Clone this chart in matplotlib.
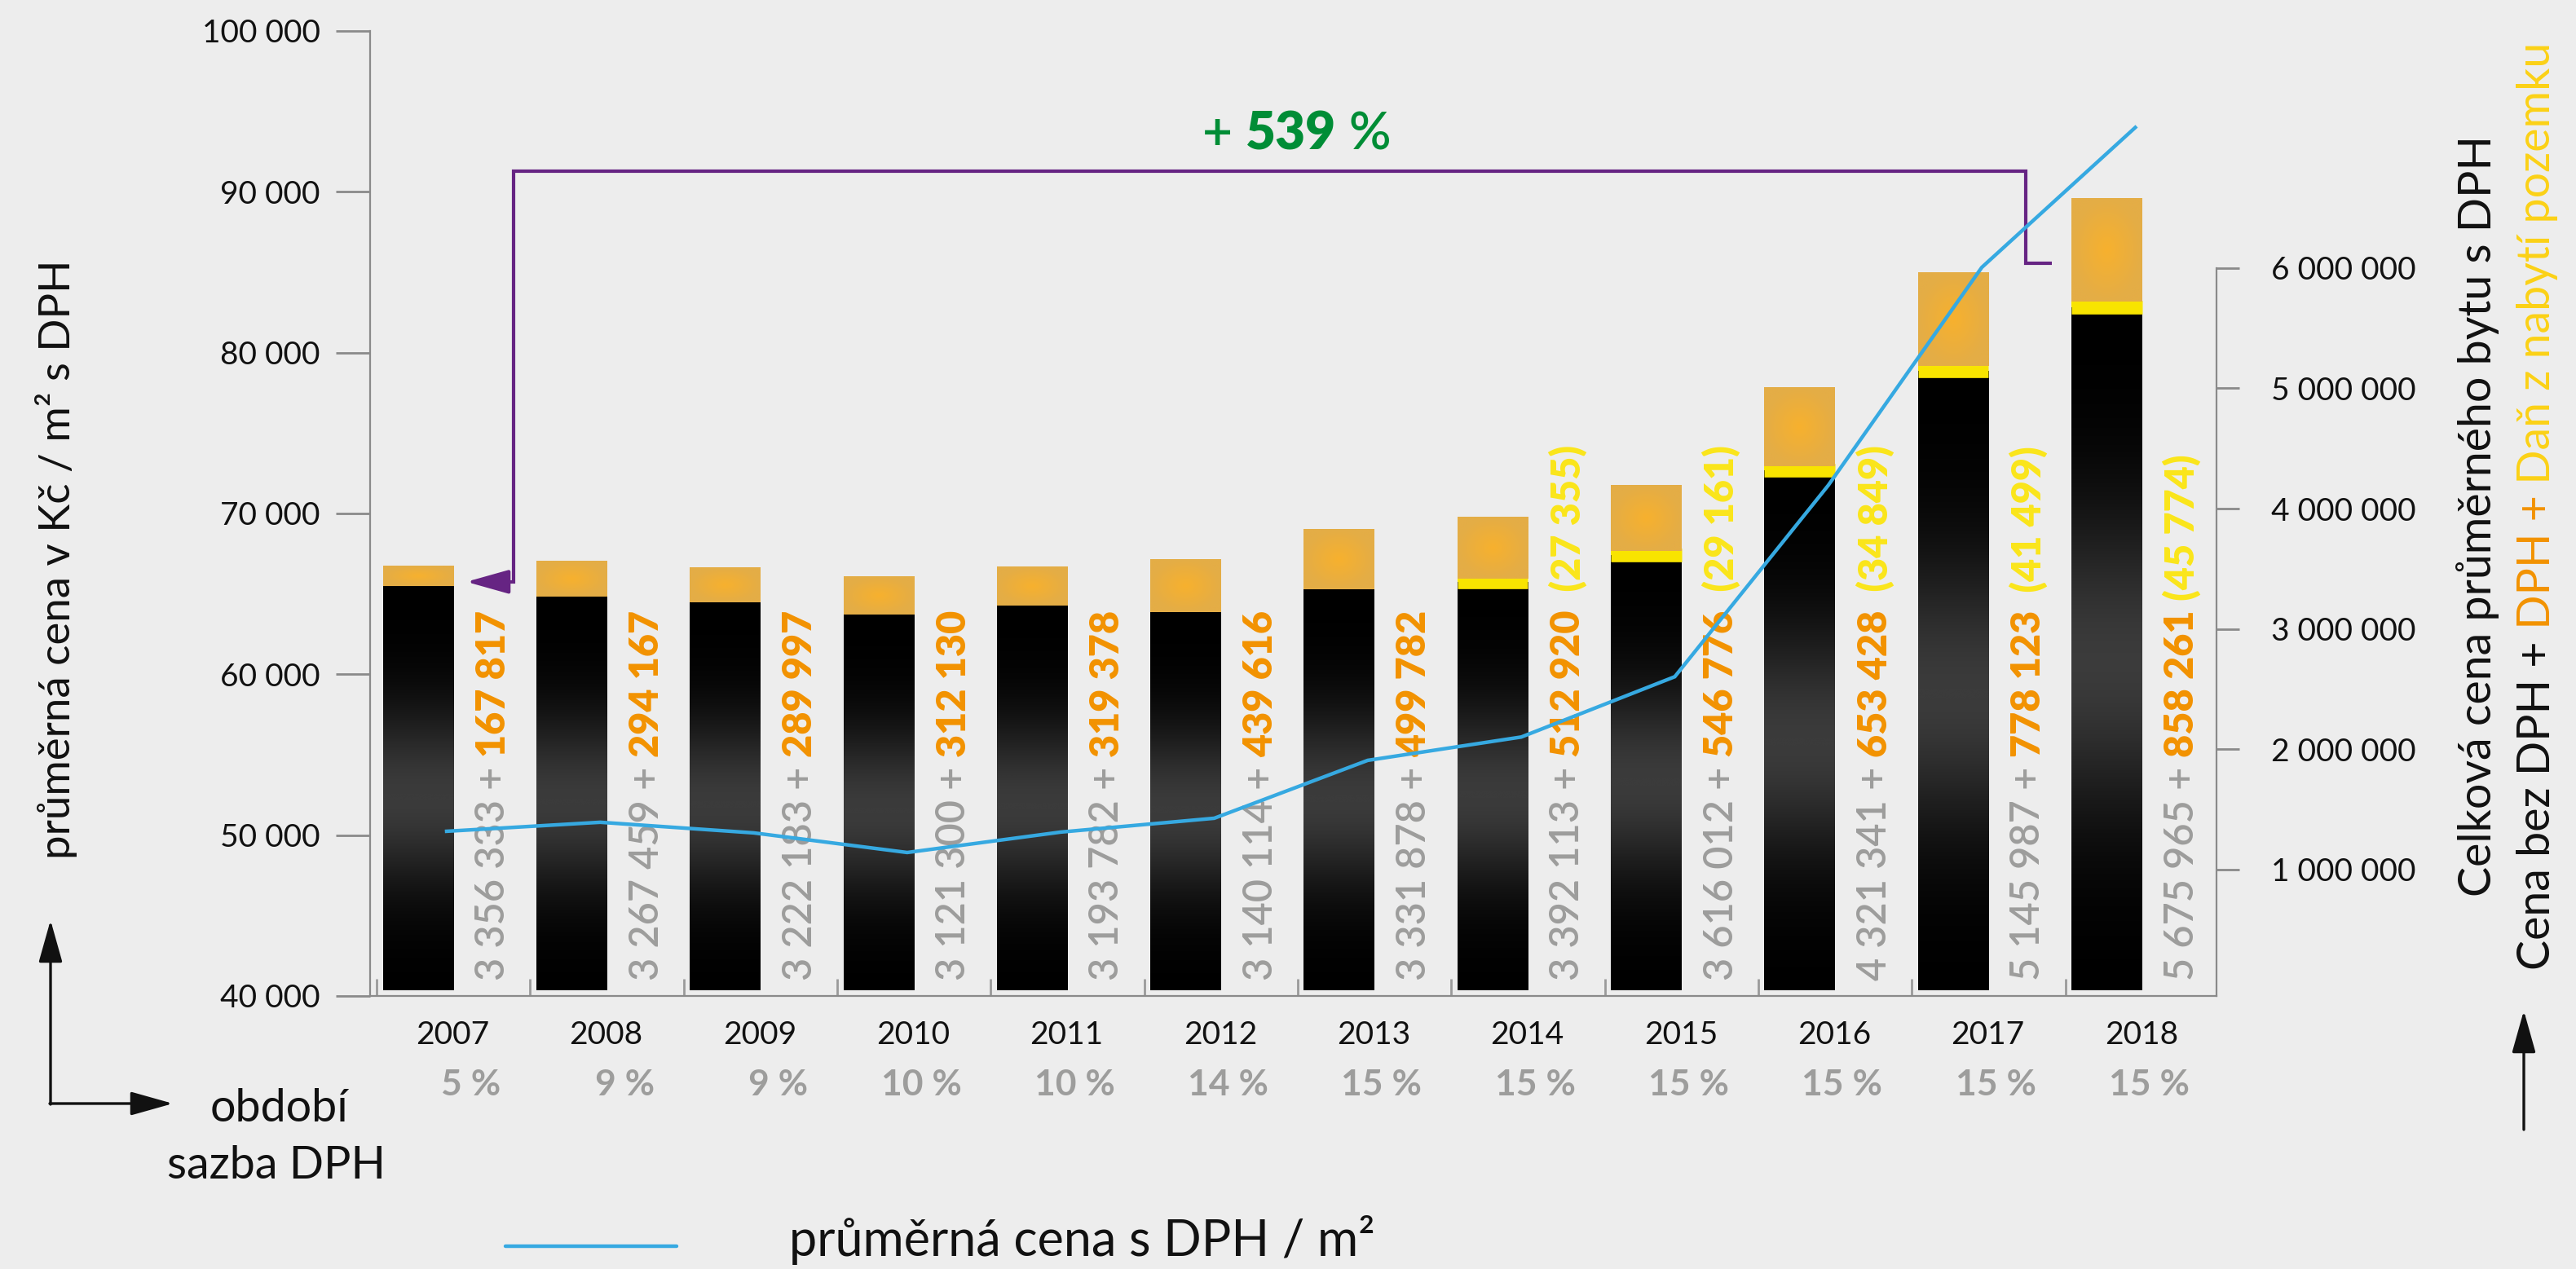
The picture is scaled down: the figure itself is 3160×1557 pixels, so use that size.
import matplotlib.pyplot as plt
import numpy as np
from matplotlib.colors import LinearSegmentedColormap

plt.rcParams['font.family'] = ['Lato', 'DejaVu Sans']

############################## data ##
years = ['2007', '2008', '2009', '2010', '2011', '2012',
         '2013', '2014', '2015', '2016', '2017', '2018']
vat_rate = ['5 %', '9 %', '9 %', '10 %', '10 %', '14 %',
            '15 %', '15 %', '15 %', '15 %', '15 %', '15 %']
price_no_vat = [3356333, 3267459, 3222183, 3121300, 3193782, 3140114,
                3331878, 3392113, 3616012, 4321341, 5145987, 5675965]
vat = [167817, 294167, 289997, 312130, 319378, 439616,
       499782, 512920, 546776, 653428, 778123, 858261]
land_tax = [0, 0, 0, 0, 0, 0, 0, 27355, 29161, 34849, 41499, 45774]
price_m2 = [50240, 50800, 50140, 48920, 50190, 51050,
            54650, 56100, 59850, 71750, 85300, 94000]
left_ticks = [40000, 50000, 60000, 70000, 80000, 90000, 100000]
right_ticks = [1000000, 2000000, 3000000, 4000000, 5000000, 6000000]
growth = '539'

GREY = '#9d9d9c'
ORANGE = '#f39200'
YELLOW = '#fbe51a'
GOLD = '#fcd116'
PURPLE = '#662483'
BLUE = '#36a9e1'
GREEN = '#008d36'
BG = '#ededed'


def fmt(v):
    return f'{v:,}'.replace(',', ' ')


W, H, DPI = 3160, 1557, 200
fig = plt.figure(figsize=(W / DPI, H / DPI), dpi=DPI, facecolor=BG)

ax = fig.add_axes([454 / W, 1 - 1222 / H, (2719 - 454) / W, (1222 - 38) / H])
ax2 = ax.twinx()
ax.set_zorder(3)
ax2.set_zorder(2)
ax.patch.set_visible(False)
ax2.patch.set_visible(False)

x = np.arange(len(years))
w = 0.46

# black bars with a soft vertical gradient
black_cmap = LinearSegmentedColormap.from_list('blk', ['#000000', '#3b3b3b'])
t = np.linspace(0, 1, 256)
grad = np.exp(-((t - 0.48) / 0.22) ** 2).reshape(-1, 1)
orange_cmap = LinearSegmentedColormap.from_list('org', ['#f7b12e', '#e4ad46'])
u, v = np.meshgrid(np.linspace(-1, 1, 60), np.linspace(-1, 1, 60))
radial = np.clip(np.sqrt(u ** 2 + v ** 2), 0, 1)

for i in range(len(years)):
    b = price_no_vat[i]
    ax2.imshow(grad, cmap=black_cmap, vmin=0, vmax=1, origin='lower', aspect='auto',
               extent=[x[i] - w / 2, x[i] + w / 2, 0, b], zorder=2, interpolation='bicubic')
    if land_tax[i] > 0:
        ax2.bar(x[i], land_tax[i], bottom=b, width=w, color='#f8e400', linewidth=0, zorder=3)
        ax2.hlines(b, x[i] - w / 2, x[i] + w / 2, colors='#f8e400', linewidth=6,
                   zorder=3, capstyle='butt')
    bot = b + land_tax[i]
    ax2.imshow(radial, cmap=orange_cmap, vmin=0, vmax=1, origin='lower', aspect='auto',
               extent=[x[i] - w / 2, x[i] + w / 2, bot, bot + vat[i]], zorder=4,
               interpolation='bicubic')

# average price per m2 line
ax.plot(x + 0.186, price_m2, color=BLUE, linewidth=1.6, zorder=10, solid_joinstyle='miter')

ax.set_xlim(-0.313, 11.715)
ax.set_ylim(40000, 100000)
ax2.set_ylim(-50000, 7970000)

# axes styling
for s in ['top', 'right']:
    ax.spines[s].set_visible(False)
for s in ['top', 'left', 'bottom']:
    ax2.spines[s].set_visible(False)
ax.spines['left'].set_color('#8a8a8a')
ax.spines['bottom'].set_color('#8a8a8a')
ax2.spines['right'].set_color('#8a8a8a')
ax2.spines['right'].set_bounds(-50000, 6000000)

ax.set_yticks(left_ticks)
ax.set_yticklabels([fmt(v) for v in left_ticks])
ax.tick_params(axis='y', direction='out', length=15, width=1, color='#8a8a8a',
               pad=7, labelsize=14, labelcolor='#111111')
ax2.set_yticks(right_ticks)
ax2.set_yticklabels([fmt(v) for v in right_ticks])
ax2.tick_params(axis='y', direction='out', length=10, width=1, color='#8a8a8a',
                pad=14, labelsize=14, labelcolor='#111111')
ax.set_xticks([])
ax.set_xticks(x - 0.27, minor=True)
ax.tick_params(axis='x', which='minor', direction='in', length=7.5, width=1, color='#9a9a9a')

xtr = ax.get_xaxis_transform()
for i in range(len(years)):
    ax.text(x[i] + 0.225, -0.0405, years[i], transform=xtr, ha='center', va='center',
            fontsize=14, color='#111111')
    ax.text(x[i] + 0.54, -0.092, vat_rate[i], transform=xtr, ha='right', va='center',
            fontsize=16, fontweight='bold', color=GREY)

# multi-coloured vertical value labels
for i in range(len(years)):
    pieces = [(fmt(price_no_vat[i]), GREY, 'semibold'),
              (' + ', GREY, 'semibold'),
              (fmt(vat[i]), ORANGE, 'heavy')]
    if land_tax[i] > 0:
        gap = ' ' if i == len(years) - 1 else '  '
        pieces.append((gap + '(' + fmt(land_tax[i]) + ')', YELLOW, 'heavy'))
    prev = ax.text(x[i] + 0.49, 0.016, pieces[0][0], transform=xtr, rotation=90,
                   ha='center', va='bottom', color=pieces[0][1],
                   fontweight=pieces[0][2], fontsize=17.5, zorder=6)
    for s, c, fw in pieces[1:]:
        prev = ax.annotate(s, xy=(0.5, 1.0), xycoords=prev, rotation=90,
                           ha='center', va='bottom', color=c, fontweight=fw,
                           fontsize=17.5, zorder=6)

# purple bracket with growth
bx = [10.64, 10.47, 10.47, 0.622, 0.622, 0.45]
by = [85560, 85560, 91290, 91290, 65750, 65750]
ax.plot(bx, by, color=PURPLE, linewidth=1.5, zorder=7, solid_joinstyle='miter',
        solid_capstyle='butt', clip_on=False)
ax.annotate('', xy=(0.314, 65750), xytext=(0.55, 65750),
            arrowprops=dict(arrowstyle='-|>,head_length=1.6,head_width=0.45',
                            color=PURPLE, linewidth=1.5, shrinkA=0, shrinkB=0),
            zorder=7)
g1 = fig.text(1475 / W, 1 - 165 / H, '+ ', color=GREEN, fontsize=23,
              ha='left', va='center', fontweight='semibold')
g2 = ax.annotate(growth, xy=(1, 0), xycoords=g1, ha='left', va='bottom', color=GREEN,
                 fontsize=23, fontweight='heavy')
ax.annotate(' %', xy=(1, 0), xycoords=g2, ha='left', va='bottom', color=GREEN,
            fontsize=23, fontweight='semibold')

# left axis title and corner arrows
fig.text(69 / W, 1 - 686 / H, 'průměrná cena v Kč / m² s DPH', rotation=90,
         ha='center', va='center', fontsize=19, color='#111111')


def P(px, py):
    return (px / W, 1 - py / H)


arrow = dict(arrowstyle='-|>,head_length=1.6,head_width=0.45', color='#111111',
             linewidth=1.2, shrinkA=0, shrinkB=0)
ax.annotate('', xy=P(62, 1129), xytext=P(62, 1355), xycoords='figure fraction',
            textcoords='figure fraction', arrowprops=arrow, annotation_clip=False)
ax.annotate('', xy=P(212, 1354), xytext=P(61, 1354), xycoords='figure fraction',
            textcoords='figure fraction', arrowprops=arrow, annotation_clip=False)
fig.text(*P(342, 1361), 'období', ha='center', va='center', fontsize=20, color='#111111')
fig.text(*P(339, 1430), 'sazba DPH', ha='center', va='center', fontsize=20, color='#111111')

# right axis titles
fig.text(*P(3040, 1100), 'Celková cena průměrného bytu s DPH', rotation=90,
         ha='center', va='bottom', fontsize=20, color='#111111')
r1 = fig.text(*P(3112, 1190), 'Cena bez DPH +', rotation=90, ha='center', va='bottom',
              fontsize=20, color='#111111')
r2 = ax.annotate(' DPH +', xy=(0.5, 1), xycoords=r1, rotation=90, ha='center',
                 va='bottom', fontsize=20, color=ORANGE)
ax.annotate(' Daň z nabytí pozemku', xy=(0.5, 1), xycoords=r2, rotation=90,
            ha='center', va='bottom', fontsize=20, color=GOLD)
ax.annotate('', xy=P(3096, 1240), xytext=P(3096, 1386), xycoords='figure fraction',
            textcoords='figure fraction', arrowprops=arrow, annotation_clip=False)

# legend
ax.annotate('', xy=P(830, 1529), xytext=P(620, 1529), xycoords='figure fraction',
            textcoords='figure fraction', annotation_clip=False,
            arrowprops=dict(arrowstyle='-', color=BLUE, linewidth=1.6, shrinkA=0, shrinkB=0))
fig.text(*P(968, 1541), 'průměrná cena s DPH / m²', ha='left', va='baseline',
         fontsize=22, color='#111111')

fig.savefig('out.png', dpi=DPI, facecolor=BG)
